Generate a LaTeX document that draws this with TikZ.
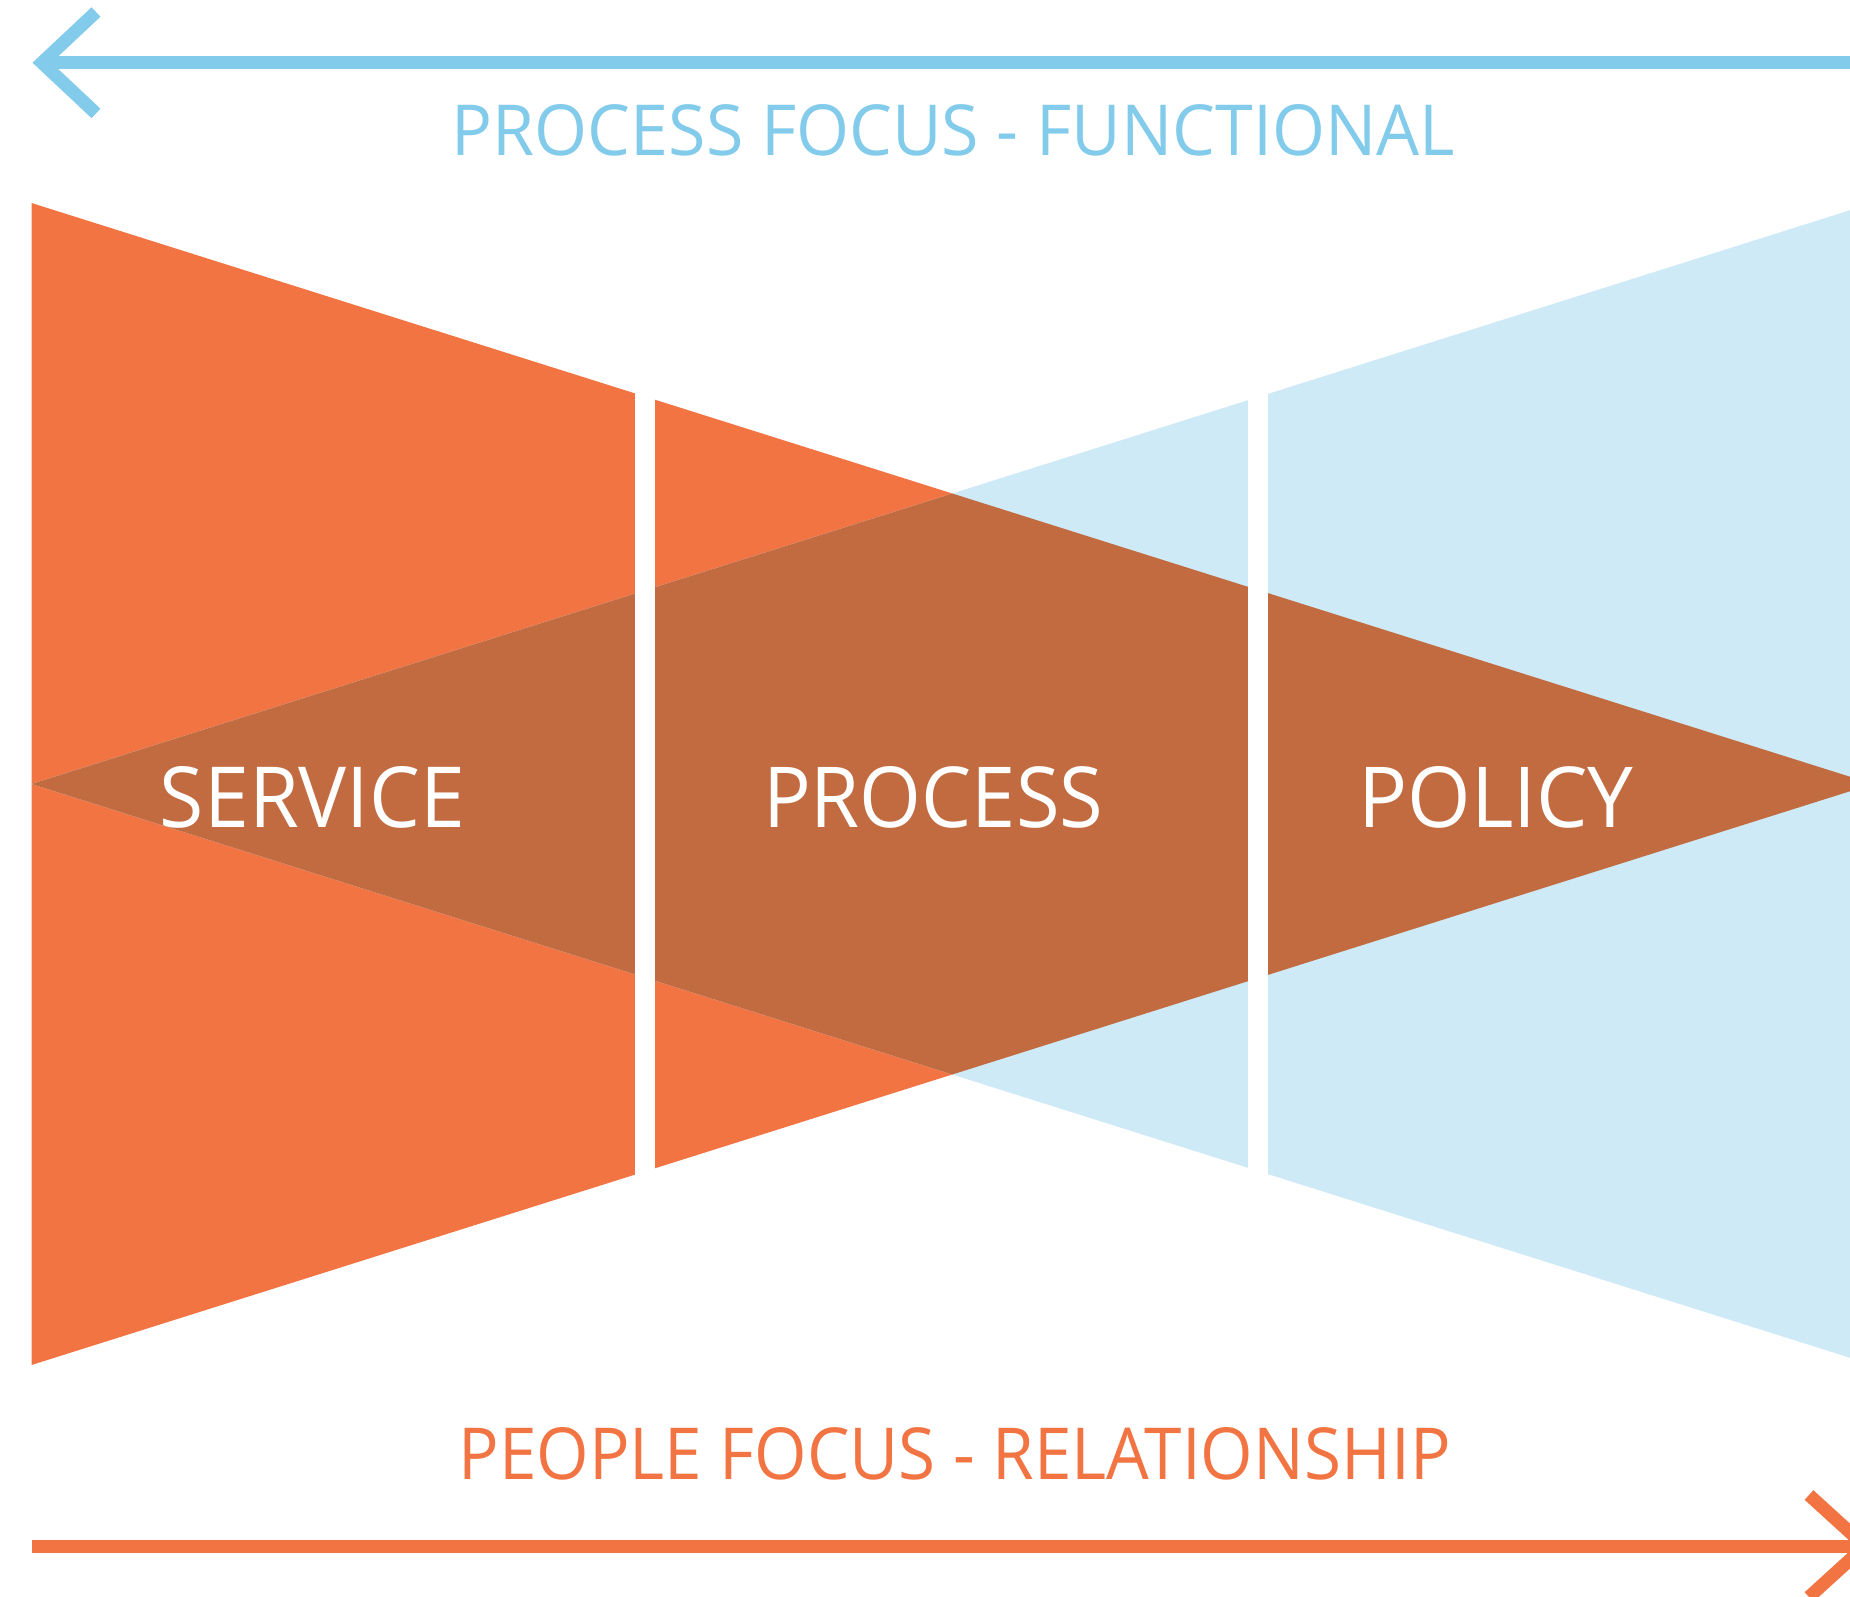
\documentclass[tikz,border=0pt]{standalone}
\usepackage{fontspec}
\setsansfont{Open Sans}
\definecolor{flame}{HTML}{F27443}
\definecolor{sky}{HTML}{CFEAF7}
\definecolor{rust}{HTML}{C26B40}
\definecolor{azure}{HTML}{82CBEA}
\begin{document}
\begin{tikzpicture}[x=1pt,y=-1pt,
  label/.style={inner sep=0pt, anchor=base, font=\sffamily},
  stage/.style={label, text=white},
  axisline/.style={line width=13pt, line cap=butt, line join=miter},
  gapbar/.style={fill=white}]
\useasboundingbox (0,0) rectangle (1850,1597);
\clip (0,0) rectangle (1850,1597);
\fill[white] (0,0) rectangle (1850,1597);

% two opposing wedges and their overlap
\fill[flame] (31.5,203) -- (31.5,1365) -- (1873,784) -- cycle;
\fill[sky] (31.5,784) -- (1873,203) -- (1873,1365) -- cycle;
\fill[rust] (31.5,784) -- (952.25,493.5) -- (1873,784) -- (952.25,1074.5) -- cycle;

% white separators between the three stages
\fill[gapbar] (635,190) rectangle (655,1380);
\fill[gapbar] (1248,190) rectangle (1268,1380);

% stage names
\node[stage] (service) at (312.5,827.3) {\resizebox{305pt}{61pt}{SERVICE}};
\node[stage] (process) at (933.2,827.3) {\resizebox{340pt}{61pt}{PROCESS}};
\node[stage] (policy) at (1495.8,827.3) {\resizebox{275pt}{61pt}{POLICY}};

% top axis: process focus, pointing left
\coordinate (ptip) at (42,62.7);
\coordinate (pend) at (1860,62.7);
\coordinate (parmA) at (96,12);
\coordinate (parmB) at (96,113.4);
\draw[axisline, azure] (pend) -- (ptip);
\draw[axisline, azure] (parmA) -- (ptip) -- (parmB);
\node[label, text=azure] (functional) at (953.3,156) {\resizebox{1003pt}{51pt}{PROCESS FOCUS - FUNCTIONAL}};

% bottom axis: people focus, pointing right
\coordinate (qstart) at (32,1546);
\coordinate (qtip) at (1865,1546);
\coordinate (qarmA) at (1809,1495);
\coordinate (qarmB) at (1809,1597);
\draw[axisline, flame] (qstart) -- (qtip);
\draw[axisline, flame] (qarmA) -- (qtip) -- (qarmB);
\node[label, text=flame] (relationship) at (954.5,1479) {\resizebox{992pt}{52pt}{PEOPLE FOCUS - RELATIONSHIP}};
\end{tikzpicture}
\end{document}
